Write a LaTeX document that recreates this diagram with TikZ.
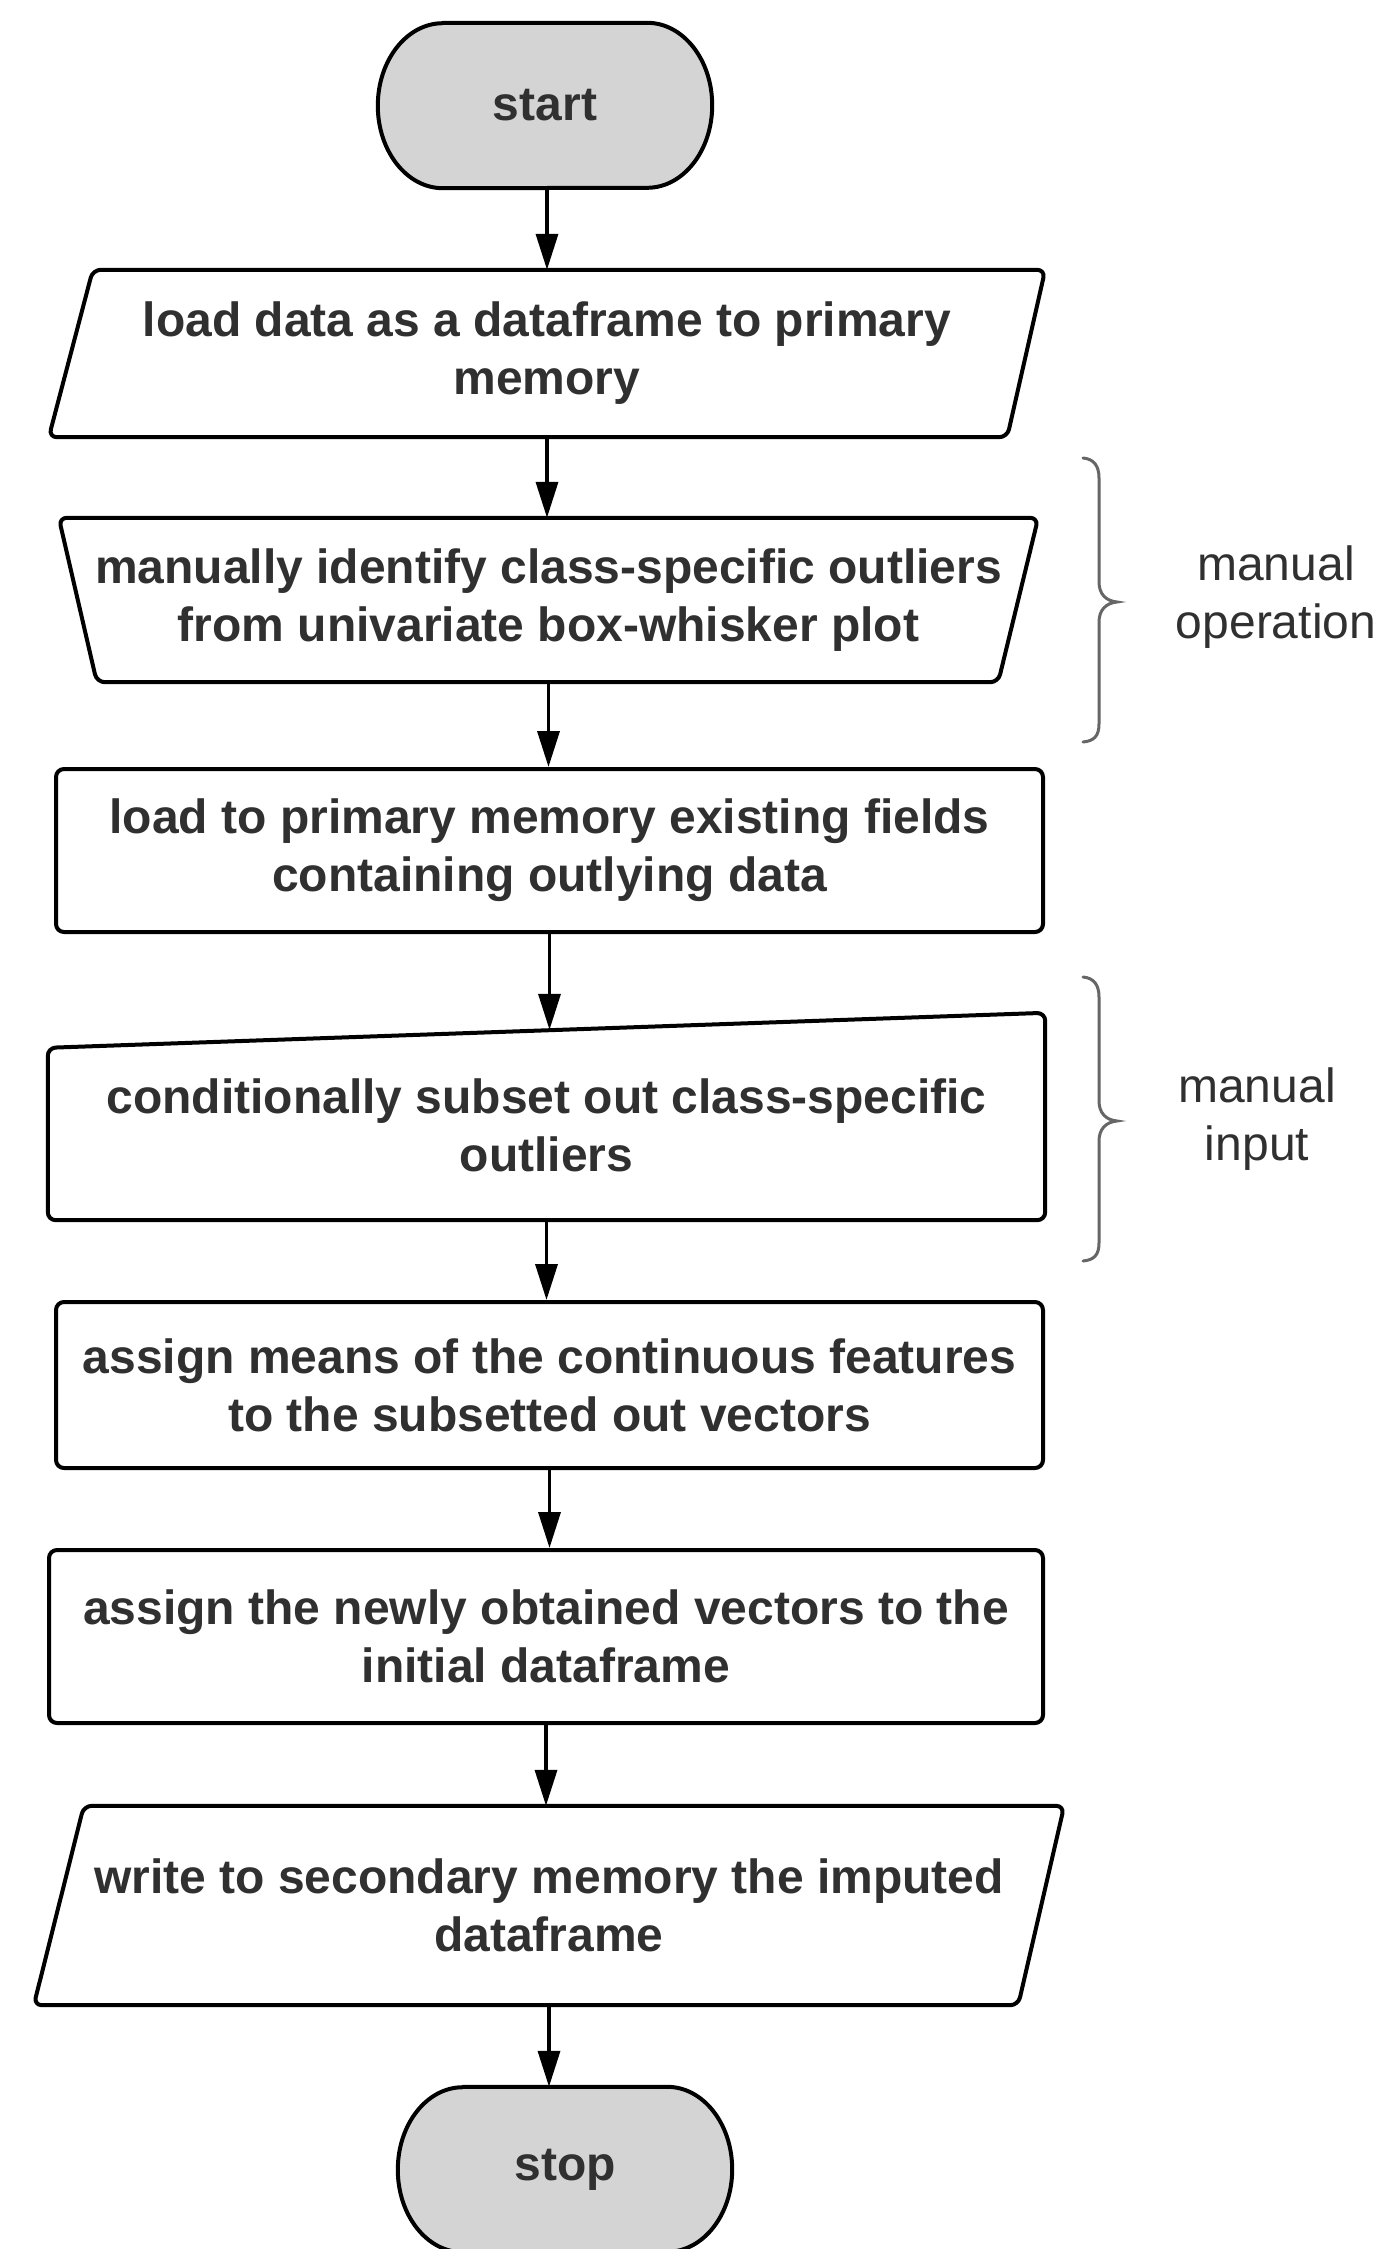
\documentclass[tikz,border=0pt]{standalone}
\usepackage{fontspec}
\setmainfont{Liberation Sans}
\usetikzlibrary{arrows.meta,calc}
\definecolor{txt}{HTML}{303030}
\definecolor{termfill}{HTML}{D4D4D4}
\definecolor{bracecol}{HTML}{666666}
\begin{document}
\begin{tikzpicture}[x=1pt,y=-1pt,
  boxtext/.style={align=center,text=txt,inner sep=0pt,
    font=\fontsize{48}{58}\selectfont\bfseries},
  sidetext/.style={align=center,text=txt,inner sep=0pt,
    font=\fontsize{48}{58}\selectfont},
  frame/.style={draw=black,line width=4pt,rounded corners=8pt,line join=round},
  termframe/.style={draw=black,line width=4pt,fill=termfill,line join=round},
  procbox/.style={boxtext,frame},
  arr/.style={draw=black,line width=3.5pt,-{Triangle[length=36pt,width=22pt]}},
  bracestyle/.style={draw=bracecol,line width=3pt,line cap=round}]
\useasboundingbox (0,0) rectangle (1384,2249);
\fill[white] (0,0) rectangle (1384,2249);

% terminals (elliptical sides)
\node[boxtext,minimum width=334pt,minimum height=165pt] (start) at (545,105.5) {};
\draw[termframe] ([xshift=65pt]start.north west) -- ([xshift=-65pt]start.north east)
  arc[start angle=90,end angle=-90,x radius=65pt,y radius=82.5pt]
  -- ([xshift=65pt]start.south west)
  arc[start angle=270,end angle=90,x radius=65pt,y radius=82.5pt] -- cycle;
\node[boxtext] at (start.center) {start};

\node[boxtext,minimum width=334pt,minimum height=165pt] (stop) at (565,2169.5) {};
\draw[termframe] ([xshift=65pt]stop.north west) -- ([xshift=-65pt]stop.north east)
  arc[start angle=90,end angle=-90,x radius=65pt,y radius=82.5pt]
  -- ([xshift=65pt]stop.south west)
  arc[start angle=270,end angle=90,x radius=65pt,y radius=82.5pt] -- cycle;
\node[boxtext] at (stop.center) {stop};

% process nodes
\node[boxtext,minimum width=996pt,minimum height=167pt] (p1) at (547,353.5)
  {load data as a dataframe to primary\\memory};
\draw[frame] ([xshift=44pt]p1.north west) -- (p1.north east)
  -- ([xshift=-38pt]p1.south east) -- (p1.south west) -- cycle;

\node[boxtext,minimum width=979pt,minimum height=164pt] (trap) at (548.5,600)
  {manually identify class-specific outliers\\from univariate box-whisker plot};
\draw[frame] (trap.north west) -- (trap.north east)
  -- ([xshift=-40pt]trap.south east) -- ([xshift=38pt]trap.south west) -- cycle;

\node[procbox,minimum width=987pt,minimum height=163pt] (r3) at (549.5,850.5)
  {load to primary memory existing fields\\containing outlying data};

\node[boxtext,minimum width=997pt,minimum height=190pt] (mi) at (546.5,1125)
  {conditionally subset out class-specific\\outliers};
\draw[frame] ([yshift=-18pt]mi.north west) -- ([yshift=17pt]mi.north east)
  -- (mi.south east) -- (mi.south west) -- cycle;

\node[procbox,minimum width=987pt,minimum height=166pt] (r5) at (549.5,1385)
  {assign means of the continuous features\\to the subsetted out vectors};

\node[procbox,minimum width=994pt,minimum height=173pt] (r6) at (546,1636.5)
  {assign the newly obtained vectors to the\\initial dataframe};

\node[boxtext,minimum width=1030pt,minimum height=199pt] (p2) at (549,1905.5)
  {write to secondary memory the imputed\\dataframe};
\draw[frame] ([xshift=50pt]p2.north west) -- (p2.north east)
  -- ([xshift=-46pt]p2.south east) -- (p2.south west) -- cycle;

% side labels
\node[sidetext] (lop) at (1276,597) {manual\\operation};
\node[sidetext] (lin) at (1257,1119) {manual\\input};

% braces
\draw[bracestyle] (1083,458) .. controls (1094,459) and (1099,466) .. (1099,478)
  -- (1099,582) .. controls (1099,594) and (1106,601) .. (1117,602)
  .. controls (1106,603) and (1099,610) .. (1099,622)
  -- (1099,724) .. controls (1099,736) and (1094,741) .. (1083,742);
\draw[bracestyle] (1083,977) .. controls (1094,978) and (1099,985) .. (1099,997)
  -- (1099,1101) .. controls (1099,1113) and (1106,1120) .. (1117,1121)
  .. controls (1106,1122) and (1099,1129) .. (1099,1141)
  -- (1099,1243) .. controls (1099,1255) and (1094,1260) .. (1083,1261);

% connectors
\draw[arr] (start.south -| p1.north) -- (p1.north);
\draw[arr] (p1.south) -- (p1.south |- trap.north);
\draw[arr] (trap.south) -- (trap.south |- r3.north);
\draw[arr] (r3.south) -- (r3.south |- mi.north);
\draw[arr] (mi.south) -- (mi.south |- r5.north);
\draw[arr] (r5.south) -- (r5.south |- r6.north);
\draw[arr] (r6.south) -- (r6.south |- p2.north);
\draw[arr] (p2.south) -- (p2.south |- stop.north);
\end{tikzpicture}
\end{document}
